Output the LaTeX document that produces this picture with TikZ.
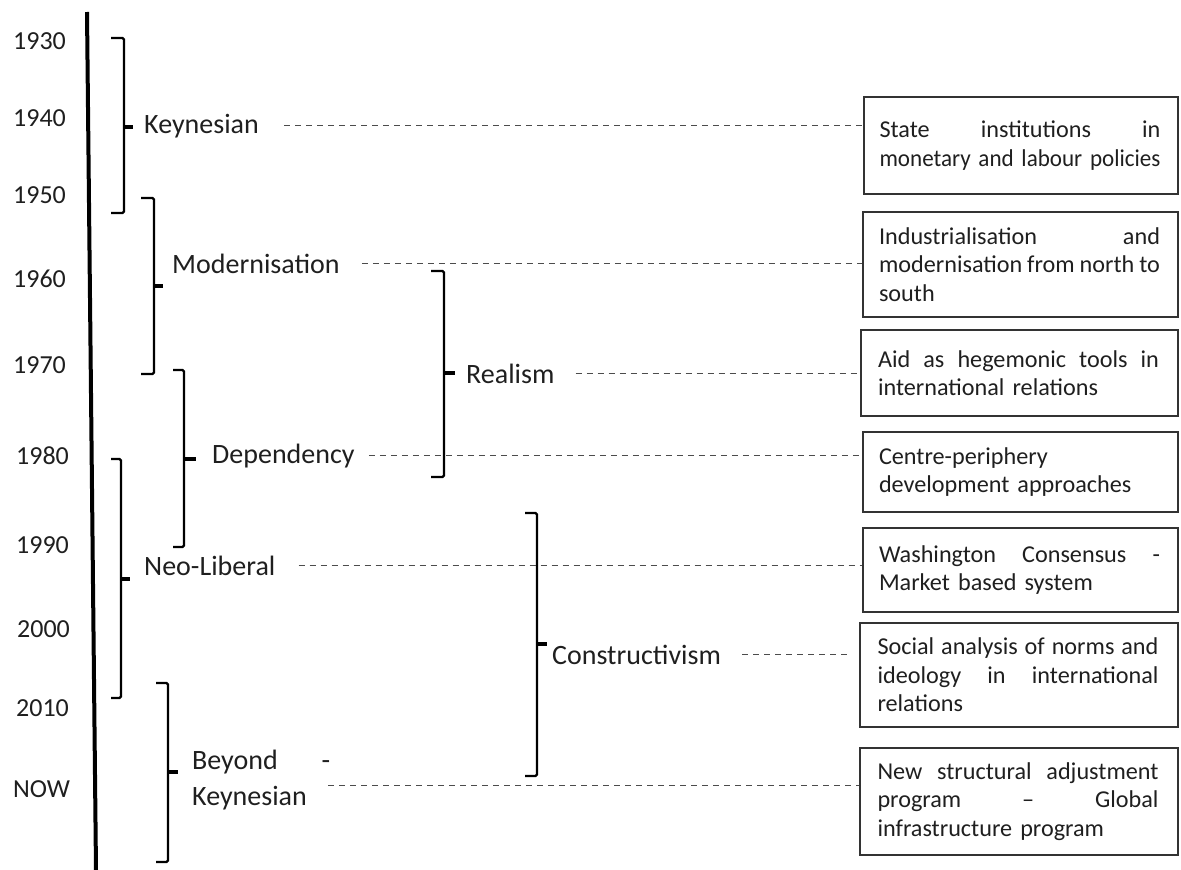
\documentclass[tikz,border=0pt]{standalone}
\usepackage{graphicx}
\usepackage{fontspec}
\setmainfont{Carlito}
\newfontfamily\boxfont[WordSpace=0.6]{Carlito}
\newcommand\justline[1]{\setbox0=\hbox{#1}\ifdim\wd0>281pt \resizebox{281pt}{\height}{\box0}\else\makebox[281pt][l]{#1}\fi}
\hyphenpenalty=10000
\begin{document}
\begin{tikzpicture}[x=1pt,y=-1pt,
  yr/.style={font=\fontsize{26}{28}\selectfont, anchor=base west, inner sep=0pt, text=black!88},
  lbl/.style={font=\fontsize{28}{33}\selectfont, anchor=base west, inner sep=0pt, text=black!88},
  infobox/.style={draw=black!80, line width=1.6pt, text width=283pt, align=left, inner xsep=0pt, inner ysep=0pt,
     font=\boxfont\fontsize{24.2}{28.4}\selectfont, text=black!88},
  brk/.style={line width=2.4pt, rounded corners=1.5pt},
  tck/.style={line width=3.5pt},
  dline/.style={draw=black!70, line width=1.4pt, dash pattern=on 6pt off 5pt}]
\useasboundingbox (0,0) rectangle (1181,870);

% main axis
\draw[line width=4pt] (87,12) -- (96,870);

% years
\node[yr] (y1930) at (13,49) {1930};
\node[yr] (y1940) at (13,126) {1940};
\node[yr] (y1950) at (13,203) {1950};
\node[yr] (y1960) at (13,287) {1960};
\node[yr] (y1970) at (13,373) {1970};
\node[yr] (y1980) at (16,464) {1980};
\node[yr] (y1990) at (16,553) {1990};
\node[yr] (y2000) at (17,637) {2000};
\node[yr] (y2010) at (16,716) {2010};
\node[yr] (ynow) at (13,797) {NOW};

% brackets
\draw[brk] (111,38) -- (124,38) -- (124,213) -- (111,213);
\draw[tck] (124,127) -- (133,127);
\draw[brk] (141,198) -- (154,198) -- (154,374) -- (141,374);
\draw[tck] (154,286) -- (163,286);
\draw[brk] (173,370) -- (184,370) -- (184,547) -- (173,547);
\draw[tck] (184,459) -- (196,459);
\draw[brk] (111,459) -- (121,459) -- (121,698) -- (111,698);
\draw[tck] (121,579) -- (130,579);
\draw[brk] (156,683) -- (168,683) -- (168,862) -- (156,862);
\draw[tck] (168,772) -- (178,772);
\draw[brk] (431,271) -- (444,271) -- (444,477) -- (431,477);
\draw[tck] (444,373) -- (455,373);
\draw[brk] (525,513) -- (537,513) -- (537,776) -- (525,776);
\draw[tck] (537,644) -- (547,644);

% labels
\node[lbl] (kLbl) at (144,133) {Keynesian};
\node[lbl] (mLbl) at (172,273) {Modernisation};
\node[lbl] (rLbl) at (466,383) {Realism};
\node[lbl] (dLbl) at (212,463) {Dependency};
\node[lbl] (nLbl) at (144,575) {Neo-Liberal};
\node[lbl] (cLbl) at (552,664) {Constructivism};
\node[lbl] (bk1) at (192,769) {\makebox[138pt][l]{Beyond\hfill-}};
\node[lbl] (bk2) at (192,805) {Keynesian};
\coordinate (bkOut) at ([xshift=-2pt]bk1.east |- bk2.north);

% boxes
\node[infobox, minimum width=314pt, minimum height=97pt] (b1) at (1021,145.5)
  {\justline{State\hfill institutions\hfill in}\\\justline{monetary and labour policies}};
\node[infobox, minimum width=315pt, minimum height=105pt] (b2) at (1020.5,264.5)
  {\justline{Industrialisation\hfill and}\\\justline{modernisation\hfill from\hfill north\hfill to}\\south};
\node[infobox, minimum width=317pt, minimum height=86pt] (b3) at (1019.5,373)
  {\justline{Aid\hfill as\hfill hegemonic\hfill tools\hfill in}\\international relations};
\node[infobox, minimum width=315pt, minimum height=80pt] (b4) at (1020.5,472)
  {Centre-periphery\\development approaches};
\node[infobox, minimum width=315pt, minimum height=84pt] (b5) at (1020.5,570)
  {\justline{Washington\hfill Consensus\hfill -}\\Market based system};
\node[infobox, minimum width=318pt, minimum height=104pt] (b6) at (1019,675)
  {\justline{Social\hfill analysis\hfill of\hfill norms\hfill and}\\\justline{ideology\hfill in\hfill international}\\relations};
\node[infobox, minimum width=318pt, minimum height=107pt] (b7) at (1019,801.5)
  {\justline{New\hfill structural\hfill adjustment}\\\justline{program\hfill –\hfill Global}\\infrastructure program};

% dashed connectors
\draw[dline] ([xshift=25pt]kLbl.east) -- (kLbl.east -| b1.west);
\draw[dline] ([xshift=22pt]mLbl.east) -- (mLbl.east -| b2.west);
\draw[dline] ([xshift=21pt]rLbl.east) -- (rLbl.east -| b3.west);
\draw[dline] ([xshift=14pt]dLbl.east) -- (dLbl.east -| b4.west);
\draw[dline] ([xshift=23pt]nLbl.east) -- (nLbl.east -| b5.west);
\draw[dline, shorten >=10pt] ([xshift=21pt]cLbl.east) -- (cLbl.east -| b6.west);
\draw[dline] (bkOut) -- (bkOut -| b7.west);
\end{tikzpicture}
\end{document}
